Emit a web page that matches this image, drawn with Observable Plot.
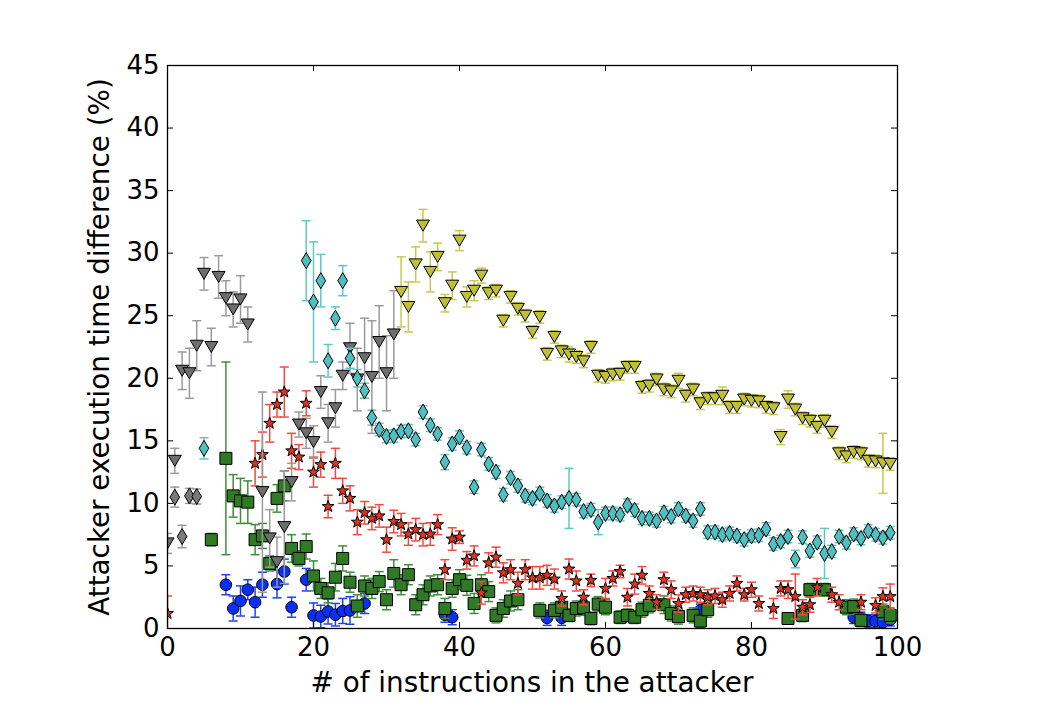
<!DOCTYPE html>
<html><head><meta charset="utf-8">
<script src="https://cdn.jsdelivr.net/npm/d3@7"></script>
<script src="https://cdn.jsdelivr.net/npm/@observablehq/plot@0.6"></script>
<style>body{margin:0;background:#fff}</style>
</head><body><div id="chart"></div>
<script>
// ---- tick labels / axis text
const xTicks = [0, 20, 40, 60, 80, 100];
const yTicks = [0, 5, 10, 15, 20, 25, 30, 35, 40, 45];
const xLabel = "# of instructions in the attacker";
const yLabel = "Attacker execution time difference (%)";

// ---- blue circles
const blueX = [8, 9, 10, 11, 12, 13, 15, 16, 17, 19, 20, 21, 22, 23, 24, 25, 27, 38, 39, 52, 54, 73, 94, 95, 96, 97, 98, 99];
const blueY = [3.5, 1.6, 2.2, 3.1, 2.1, 3.5, 3.55, 4.55, 1.7, 3.9, 1.04, 0.96, 1.36, 1.1, 1.4, 1.44, 2.0, 1.1, 0.9, 0.85, 0.85, 1.45, 0.9, 0.8, 0.6, 0.6, 0.5, 0.7];
const blueE = [0.8, 1.0, 1.2, 0.8, 1.2, 1.0, 1.1, 1.0, 0.8, 0.9, 1.0, 0.9, 1.0, 0.9, 1.0, 1.1, 0.8, 0.6, 0.6, 0.6, 0.6, 0.5, 0.5, 0.5, 0.5, 0.5, 0.5, 0.5];

// ---- green squares
const greenX = [6, 8, 9, 10, 11, 12, 13, 14, 15, 16, 17, 18, 19, 20, 21, 22, 23, 24, 25, 26, 27, 28, 29, 30, 31, 32, 33, 34, 35, 36, 37, 38, 39, 40, 41, 42, 43, 44, 45, 46, 47, 48, 51, 53, 54, 55, 56, 57, 58, 59, 60, 62, 63, 64, 65, 66, 68, 69, 70, 72, 73, 74, 85, 87, 88, 90, 93, 94, 95, 98, 99];
const greenY = [7.1, 13.6, 10.6, 10.2, 10.1, 7.1, 7.4, 5.2, 10.4, 11.4, 6.4, 5.6, 6.55, 4.2, 3.2, 2.85, 4.1, 5.6, 3.7, 1.8, 3.4, 3.2, 3.75, 2.3, 4.4, 3.5, 4.3, 1.9, 2.7, 3.4, 3.5, 1.6, 3.2, 3.9, 3.45, 2.0, 3.5, 2.95, 1.05, 1.6, 2.2, 2.3, 1.45, 1.45, 1.7, 1.05, 1.6, 1.65, 0.8, 1.95, 1.7, 0.9, 1.05, 0.9, 1.5, 1.85, 1.9, 1.2, 0.95, 1.05, 0.6, 1.5, 0.8, 1.05, 3.1, 3.1, 1.7, 1.75, 0.65, 1.35, 1.05];
const greenE = [0.5, 7.7, 1.7, 1.8, 1.7, 1.2, 1.0, 0.6, 1.1, 1.2, 1.1, 0.6, 1.0, 1.2, 0.8, 0.8, 1.1, 1.0, 0.8, 0.9, 0.8, 0.8, 0.8, 0.8, 1.1, 0.8, 0.8, 0.8, 0.8, 0.8, 0.8, 0.8, 0.7, 0.8, 0.8, 0.8, 0.8, 0.8, 0.6, 0.7, 0.8, 0.8, 0.6, 0.6, 0.7, 0.5, 0.6, 0.6, 0.5, 0.6, 0.6, 0.5, 0.5, 0.5, 0.6, 0.6, 0.7, 0.6, 0.6, 0.6, 0.5, 0.6, 0.4, 0.5, 0.5, 0.5, 0.6, 0.6, 0.5, 0.6, 0.6];

// ---- red stars
const redX = [0, 12, 13, 14, 15, 16, 17, 18, 19, 20, 21, 22, 23, 24, 25, 26, 27, 28, 29, 30, 31, 32, 33, 34, 35, 36, 37, 38, 39, 40, 41, 42, 43, 44, 45, 46, 47, 48, 49, 50, 51, 52, 53, 54, 55, 56, 57, 58, 60, 61, 62, 63, 64, 65, 66, 67, 68, 69, 70, 71, 72, 73, 74, 75, 76, 77, 78, 79, 80, 81, 83, 84, 85, 86, 87, 88, 89, 91, 92, 95, 97, 98, 99];
const redY = [1.2, 13.2, 13.9, 16.4, 17.9, 18.9, 14.2, 13.7, 18.0, 12.5, 13.1, 9.75, 13.2, 11.0, 10.4, 8.5, 9.25, 8.8, 9.0, 7.1, 8.55, 8.3, 7.55, 7.9, 7.5, 7.55, 8.3, 4.7, 7.15, 7.3, 5.45, 5.8, 2.85, 5.25, 5.7, 4.45, 4.7, 3.6, 4.7, 4.05, 4.05, 4.25, 3.95, 2.4, 4.75, 3.8, 2.5, 3.85, 3.2, 4.0, 4.55, 2.5, 3.55, 4.25, 2.8, 2.1, 3.9, 3.1, 2.0, 2.7, 2.8, 2.7, 2.5, 2.6, 2.3, 2.8, 3.6, 2.7, 3.1, 2.0, 1.6, 3.2, 3.1, 2.55, 1.7, 1.9, 3.3, 2.7, 2.1, 2.1, 1.85, 2.55, 2.55];
const redE = [1.4, 1.8, 1.8, 1.5, 1.0, 2.0, 1.4, 1.0, 1.0, 1.2, 1.0, 0.9, 1.2, 1.0, 1.0, 1.0, 0.9, 0.9, 0.9, 1.0, 0.9, 0.9, 0.9, 0.9, 0.9, 0.9, 0.8, 0.8, 0.9, 0.5, 0.7, 0.8, 0.9, 0.8, 0.8, 0.8, 0.8, 0.9, 0.8, 0.9, 0.9, 0.8, 0.8, 0.6, 0.8, 0.8, 0.6, 0.5, 0.8, 0.6, 0.5, 0.7, 0.8, 0.7, 0.6, 0.6, 0.6, 0.7, 0.7, 0.6, 0.6, 0.6, 0.6, 0.6, 0.6, 0.6, 0.6, 0.5, 0.6, 0.6, 0.8, 0.6, 0.7, 1.8, 0.6, 0.6, 0.7, 0.6, 0.6, 0.6, 0.6, 0.7, 1.0];

// ---- gray diamonds
const grayDX = [1, 2, 3, 4];
const grayDY = [10.5, 7.35, 10.6, 10.55];
const grayDE = [0.8, 0.9, 0.6, 0.6];

// ---- gray triangles
const grayTX = [0, 1, 2, 3, 4, 5, 6, 7, 8, 9, 10, 11, 13, 14, 15, 16, 17, 18, 19, 20, 21, 22, 23, 24, 25, 26, 27, 28, 29, 30, 31];
const grayTY = [6.8, 13.4, 20.6, 20.4, 22.6, 28.35, 22.5, 28.1, 26.4, 25.5, 26.3, 24.3, 10.9, 7.2, 5.3, 8.1, 11.7, 16.3, 15.6, 14.9, 18.9, 16.4, 17.6, 20.2, 22.4, 19.9, 21.6, 20.1, 22.9, 20.4, 23.5];
const grayTE = [0.8, 1.0, 1.5, 2.0, 2.0, 1.3, 1.5, 1.7, 1.4, 1.4, 1.9, 1.4, 8.0, 2.3, 2.0, 4.5, 1.5, 1.0, 1.2, 1.3, 1.3, 1.5, 1.5, 1.1, 2.0, 2.5, 3.2, 4.5, 2.9, 3.0, 3.5];

// ---- cyan diamonds
const cyanX = [5, 19, 20, 21, 22, 23, 24, 25, 26, 27, 28, 29, 30, 31, 32, 33, 34, 35, 36, 37, 38, 39, 40, 41, 42, 43, 44, 45, 46, 47, 48, 49, 50, 51, 52, 53, 54, 55, 56, 57, 58, 59, 60, 61, 62, 63, 64, 65, 66, 67, 68, 69, 70, 71, 72, 73, 74, 75, 76, 77, 78, 79, 80, 81, 82, 83, 84, 85, 86, 87, 88, 89, 90, 91, 92, 93, 94, 95, 96, 97, 98, 99];
const cyanY = [14.4, 29.4, 26.1, 27.8, 21.4, 24.8, 27.8, 21.6, 20.0, 19.0, 16.85, 15.9, 15.35, 15.4, 15.75, 15.8, 15.1, 17.3, 16.25, 15.55, 13.3, 14.75, 15.3, 14.45, 11.3, 14.3, 13.15, 12.5, 10.7, 12.05, 11.4, 10.6, 10.4, 10.8, 10.2, 9.8, 10.1, 10.4, 10.3, 9.35, 9.5, 8.5, 9.2, 9.2, 9.1, 9.85, 9.45, 8.8, 8.8, 8.6, 9.25, 8.95, 9.55, 9.0, 8.6, 9.55, 7.7, 7.7, 7.5, 7.6, 7.4, 7.1, 7.4, 7.45, 7.95, 6.75, 6.95, 7.35, 5.55, 7.3, 6.2, 6.9, 6.0, 6.15, 7.35, 6.85, 7.55, 7.2, 7.8, 7.5, 7.25, 7.65];
const cyanE = [0.85, 3.2, 4.8, 2.1, 1.3, 0.9, 1.2, 0.8, 0.7, 0.6, 0.6, 0.5, 0.5, 0.5, 0.5, 0.5, 0.5, 0.5, 0.5, 0.5, 0.6, 0.5, 0.5, 0.5, 0.5, 0.5, 0.5, 0.5, 0.5, 0.5, 0.5, 0.5, 0.5, 0.5, 0.5, 0.5, 0.5, 2.4, 0.5, 0.5, 0.5, 1.0, 0.5, 0.5, 0.5, 0.5, 0.5, 0.5, 0.5, 0.5, 0.5, 0.5, 0.5, 0.5, 0.5, 0.5, 0.5, 0.5, 0.5, 0.5, 0.5, 0.5, 0.5, 0.5, 0.5, 0.5, 0.5, 0.5, 0.7, 0.5, 0.5, 0.5, 2.0, 0.5, 0.5, 0.5, 0.5, 0.5, 0.5, 0.5, 0.5, 0.5];

// ---- yellow triangles
const yellowX = [32, 33, 34, 35, 36, 37, 38, 39, 40, 41, 42, 43, 44, 45, 46, 47, 48, 49, 50, 51, 52, 53, 54, 55, 56, 57, 58, 59, 60, 61, 62, 63, 64, 65, 66, 67, 68, 69, 70, 71, 72, 73, 74, 75, 76, 77, 78, 79, 80, 81, 82, 83, 84, 85, 86, 87, 88, 89, 90, 91, 92, 93, 94, 95, 96, 97, 98, 99];
const yellowY = [26.9, 25.7, 29.1, 32.2, 28.5, 29.7, 26.0, 27.4, 31.0, 26.5, 27.0, 28.2, 26.8, 27.0, 24.6, 26.5, 25.55, 25.0, 23.7, 24.9, 21.95, 23.3, 22.15, 21.9, 21.7, 21.35, 22.5, 20.2, 20.1, 20.3, 20.35, 20.9, 20.9, 19.3, 19.4, 19.9, 19.1, 18.95, 19.8, 18.6, 19.1, 18.0, 18.4, 18.4, 18.6, 17.7, 17.7, 18.3, 18.2, 18.15, 17.7, 17.6, 15.3, 18.3, 17.5, 16.8, 16.6, 16.1, 16.6, 15.7, 14.0, 13.75, 14.1, 14.0, 13.4, 13.35, 13.2, 13.15];
const yellowE = [2.8, 2.0, 1.4, 1.3, 1.6, 1.1, 0.7, 1.1, 0.8, 0.8, 0.8, 0.6, 0.5, 0.5, 0.5, 0.5, 0.5, 0.5, 0.5, 0.5, 0.5, 0.5, 0.5, 0.6, 0.5, 0.5, 0.5, 0.5, 0.5, 0.5, 0.5, 0.5, 0.5, 0.5, 0.5, 0.5, 0.5, 0.5, 0.6, 0.5, 0.5, 0.5, 0.5, 0.5, 0.7, 0.5, 0.5, 0.5, 0.5, 0.5, 0.5, 0.5, 0.6, 0.7, 0.5, 0.5, 0.5, 0.5, 0.5, 0.5, 0.5, 0.5, 0.5, 0.5, 0.5, 0.5, 2.4, 0.5];

// ---- build rows
const rows = (xs, ys, es) => xs.map((x, i) => ({x, y: ys[i], e: es[i]}));

// ---- marker shapes
const sym = f => ({draw(c, size) { f(c, Math.sqrt(size / Math.PI)); }});
const square = sym((c, r) => { c.moveTo(-r, -r); c.lineTo(r, -r); c.lineTo(r, r); c.lineTo(-r, r); c.closePath(); });
const thinDiamond = sym((c, r) => { c.moveTo(0, -r); c.lineTo(0.6 * r, 0); c.lineTo(0, r); c.lineTo(-0.6 * r, 0); c.closePath(); });
const triDown = sym((c, r) => { c.moveTo(-r, -0.85 * r); c.lineTo(r, -0.85 * r); c.lineTo(0, 0.85 * r); c.closePath(); });
const star = sym((c, r) => {
  for (let k = 0; k < 10; k++) {
    const a = -Math.PI / 2 + k * Math.PI / 5, rr = k % 2 ? r * 0.4 : r;
    const px = rr * Math.cos(a), py = rr * Math.sin(a);
    k ? c.lineTo(px, py) : c.moveTo(px, py);
  }
  c.closePath();
});
const cap = sym((c, r) => { c.moveTo(-r, 0); c.lineTo(r, 0); });

const series = [
  {d: rows(blueX, blueY, blueE), fill: "#0a2ff5", err: "#1f3ff5", symbol: "circle", r: 5.8},
  {d: rows(greenX, greenY, greenE), fill: "#2f7a25", err: "#3f8f3a", symbol: square, r: 6},
  {d: rows(redX, redY, redE), fill: "#e0321f", err: "#f04a40", symbol: star, r: 6.2},
  {d: rows(grayDX, grayDY, grayDE), fill: "#7a7a7a", err: "#999999", symbol: thinDiamond, r: 8},
  {d: rows(grayTX, grayTY, grayTE), fill: "#6e6e6e", err: "#9a9a9a", symbol: triDown, r: 6.5},
  {d: rows(cyanX, cyanY, cyanE), fill: "#4fbfc2", err: "#5cc8c8", symbol: thinDiamond, r: 8},
  {d: rows(yellowX, yellowY, yellowE), fill: "#bfbf3a", err: "#c8c850", symbol: triDown, r: 6.5}
];

const marks = [];
for (const s of series) {
  marks.push(Plot.ruleX(s.d, {x: "x", y1: d => d.y - d.e, y2: d => d.y + d.e, stroke: s.err, strokeWidth: 1.5, clip: true}));
  marks.push(Plot.dot(s.d, {x: "x", y: d => d.y - d.e, symbol: cap, r: 4.5, stroke: s.err, strokeWidth: 1.5, fill: "none", clip: true}));
  marks.push(Plot.dot(s.d, {x: "x", y: d => d.y + d.e, symbol: cap, r: 4.5, stroke: s.err, strokeWidth: 1.5, fill: "none", clip: true}));
  marks.push(Plot.dot(s.d, {x: "x", y: "y", symbol: s.symbol, r: s.r, fill: s.fill, stroke: "black", strokeWidth: 1, clip: true}));
}

// inward ticks on all four sides
marks.push(Plot.ruleY(yTicks, {y: d => d, x1: 0, x2: 0.82, stroke: "black", strokeWidth: 1}));
marks.push(Plot.ruleY(yTicks, {y: d => d, x1: 99.18, x2: 100, stroke: "black", strokeWidth: 1}));
marks.push(Plot.ruleX(xTicks, {x: d => d, y1: 0, y2: 0.48, stroke: "black", strokeWidth: 1}));
marks.push(Plot.ruleX(xTicks, {x: d => d, y1: 44.52, y2: 45, stroke: "black", strokeWidth: 1}));
marks.push(Plot.frame({stroke: "black", strokeWidth: 1.3}));
marks.push(Plot.axisX({ticks: xTicks, tickSize: 0, tickPadding: 9, label: null, fontSize: 26}));
marks.push(Plot.axisY({ticks: yTicks, tickSize: 0, tickPadding: 8, label: null, fontSize: 26}));

const chart = Plot.plot({
  width: 1044, height: 718,
  marginLeft: 167, marginRight: 147, marginTop: 65, marginBottom: 90,
  style: {fontFamily: "DejaVu Sans", fontSize: "26px", color: "black", background: "white", overflow: "visible"},
  x: {domain: [0, 100]},
  y: {domain: [0, 45]},
  marks
});
document.getElementById("chart").appendChild(chart);

const svg = d3.select(chart);
svg.append("text").attr("x", 532).attr("y", 692).attr("text-anchor", "middle")
  .attr("font-family", "DejaVu Sans").attr("font-size", 27.8).attr("fill", "black").text(xLabel);
svg.append("text").attr("transform", "translate(109,347) rotate(-90)").attr("text-anchor", "middle")
  .attr("font-family", "DejaVu Sans").attr("font-size", 27.8).attr("fill", "black").text(yLabel);
</script></body></html>
